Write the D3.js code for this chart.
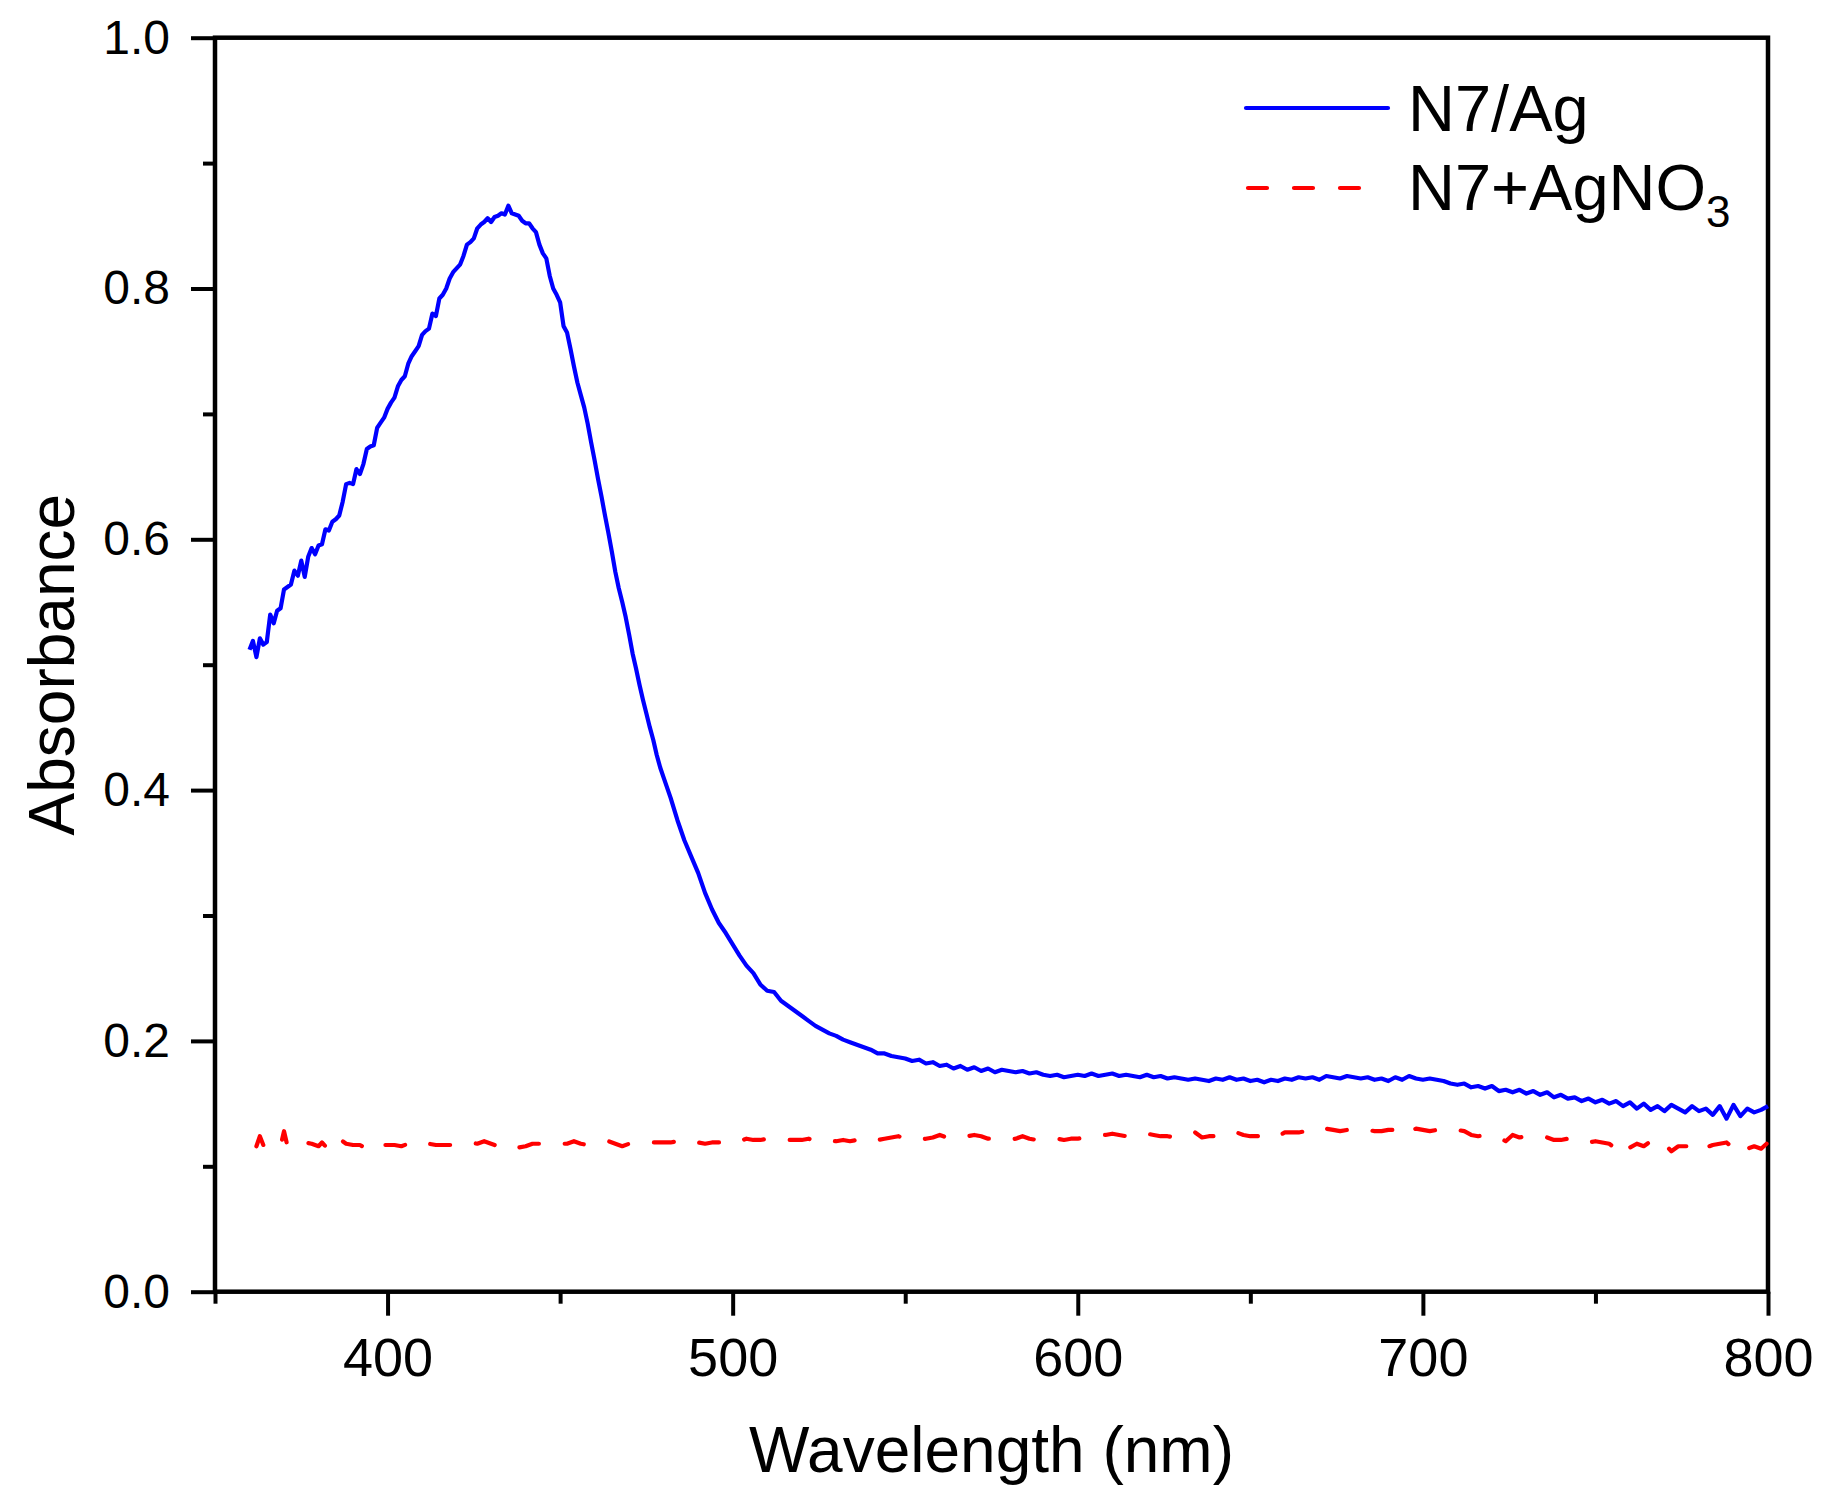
<!DOCTYPE html>
<html lang="en">
<head>
    <meta charset="UTF-8">
    <title>UV-Vis absorbance</title>
    <style>
        body { margin: 0; background: #fff; }
        text { font-family: Arial, "Liberation Sans", sans-serif; fill: #000; }
    </style>
</head>
<body>
    <svg id="container" width="1828" height="1509"></svg>

<script src="https://cdn.jsdelivr.net/npm/d3@7"></script>
<script>
    // series: [wavelength (nm), absorbance]
    let n7Ag = [
        [360,0.512],[361,0.519],[362,0.506],[363,0.521],[364,0.516],[365,0.518],[366,0.540],[367,0.533],
        [368,0.543],[369,0.545],[370,0.560],[371,0.562],[372,0.564],[373,0.575],[374,0.571],[375,0.583],
        [376,0.570],[377,0.586],[378,0.593],[379,0.588],[380,0.595],[381,0.596],[382,0.608],[383,0.607],
        [384,0.614],[385,0.616],[386,0.619],[387,0.630],[388,0.644],[389,0.645],[390,0.644],[391,0.656],
        [392,0.652],[393,0.660],[394,0.672],[395,0.674],[396,0.675],[397,0.689],[398,0.693],[399,0.697],
        [400,0.704],[401,0.709],[402,0.713],[403,0.722],[404,0.727],[405,0.730],[406,0.740],[407,0.746],
        [408,0.750],[409,0.754],[410,0.763],[411,0.766],[412,0.768],[413,0.780],[414,0.778],[415,0.792],
        [416,0.795],[417,0.800],[418,0.808],[419,0.813],[420,0.816],[421,0.819],[422,0.826],[423,0.835],
        [424,0.837],[425,0.840],[426,0.848],[427,0.851],[428,0.853],[429,0.856],[430,0.853],[431,0.857],
        [432,0.858],[433,0.860],[434,0.859],[435,0.866],[436,0.860],[437,0.859],[438,0.858],[439,0.854],
        [440,0.852],[441,0.852],[442,0.848],[443,0.845],[444,0.835],[445,0.828],[446,0.824],[447,0.810],
        [448,0.800],[449,0.795],[450,0.789],[451,0.770],[452,0.765],[453,0.752],[454,0.738],[455,0.725],
        [456,0.715],[457,0.705],[458,0.692],[459,0.677],[460,0.663],[461,0.648],[462,0.634],[463,0.619],
        [464,0.605],[465,0.590],[466,0.574],[467,0.561],[468,0.550],[469,0.538],[470,0.524],[471,0.509],
        [472,0.497],[473,0.484],[474,0.472],[475,0.461],[476,0.450],[477,0.440],[478,0.428],[479,0.418],
        [480,0.410],[482,0.394],[484,0.376],[486,0.360],[488,0.347],[490,0.334],[492,0.318],[494,0.305],
        [496,0.294],[498,0.286],[500,0.277],[502,0.268],[504,0.260],[506,0.254],[508,0.245],[510,0.240],
        [512,0.239],[514,0.232],[516,0.228],[518,0.224],[520,0.220],[522,0.216],[524,0.212],[526,0.209],
        [528,0.206],[530,0.204],[532,0.201],[534,0.199],[536,0.197],[538,0.195],[540,0.193],[542,0.190],
        [544,0.190],[546,0.188],[548,0.187],[550,0.186],[552,0.184],[554,0.185],[556,0.182],[558,0.183],
        [560,0.180],[562,0.181],[564,0.178],[566,0.180],[568,0.177],[570,0.179],[572,0.176],[574,0.178],
        [576,0.175],[578,0.177],[580,0.176],[582,0.175],[584,0.176],[586,0.174],[588,0.175],[590,0.173],
        [592,0.172],[594,0.173],[596,0.171],[598,0.172],[600,0.173],[602,0.172],[604,0.174],[606,0.172],
        [608,0.173],[610,0.174],[612,0.172],[614,0.173],[616,0.172],[618,0.171],[620,0.173],[622,0.171],
        [624,0.172],[626,0.170],[628,0.171],[630,0.170],[632,0.169],[634,0.170],[636,0.169],[638,0.168],
        [640,0.170],[642,0.169],[644,0.171],[646,0.169],[648,0.170],[650,0.168],[652,0.169],[654,0.167],
        [656,0.169],[658,0.168],[660,0.170],[662,0.169],[664,0.171],[666,0.170],[668,0.171],[670,0.169],
        [672,0.172],[674,0.171],[676,0.170],[678,0.172],[680,0.171],[682,0.170],[684,0.171],[686,0.169],
        [688,0.170],[690,0.168],[692,0.171],[694,0.169],[696,0.172],[698,0.170],[700,0.169],[702,0.170],
        [704,0.169],[706,0.168],[708,0.166],[710,0.165],[712,0.166],[714,0.163],[716,0.164],[718,0.162],
        [720,0.164],[722,0.160],[724,0.161],[726,0.159],[728,0.161],[730,0.158],[732,0.160],[734,0.157],
        [736,0.159],[738,0.155],[740,0.157],[742,0.154],[744,0.155],[746,0.152],[748,0.154],[750,0.151],
        [752,0.153],[754,0.150],[756,0.152],[758,0.148],[760,0.151],[762,0.146],[764,0.150],[766,0.145],
        [768,0.148],[770,0.144],[772,0.149],[774,0.146],[776,0.143],[778,0.148],[780,0.144],[782,0.146],
        [784,0.141],[786,0.148],[788,0.138],[790,0.149],[792,0.140],[794,0.146],[796,0.143],[798,0.145],
        [800,0.148]
    ]

    let n7AgNO3 = [
        [362,0.116],[363,0.124],[364,0.117],[366,0.118],[368,0.119],[369,0.116],[370,0.128],[371,0.116],
        [372,0.118],[374,0.119],[376,0.119],[378,0.118],[380,0.116],[381,0.119],[383,0.113],[385,0.120],
        [386,0.122],[388,0.118],[390,0.117],[392,0.117],[394,0.114],[396,0.118],[398,0.117],[400,0.117],
        [402,0.117],[404,0.116],[406,0.118],[408,0.119],[410,0.120],[412,0.118],[414,0.117],[416,0.117],
        [418,0.117],[420,0.117],[422,0.118],[424,0.119],[426,0.118],[428,0.120],[430,0.118],[432,0.116],
        [434,0.118],[436,0.117],[438,0.115],[440,0.116],[442,0.118],[444,0.118],[446,0.117],[448,0.118],
        [450,0.118],[452,0.118],[454,0.120],[456,0.118],[458,0.117],[460,0.118],[462,0.119],[464,0.120],
        [466,0.118],[468,0.116],[470,0.118],[472,0.118],[474,0.118],[476,0.119],[478,0.119],[480,0.119],
        [482,0.119],[484,0.120],[486,0.120],[488,0.121],[490,0.119],[492,0.118],[494,0.119],[496,0.119],
        [498,0.119],[500,0.118],[502,0.120],[504,0.122],[506,0.121],[508,0.121],[510,0.122],[512,0.122],
        [514,0.122],[516,0.121],[518,0.121],[520,0.121],[522,0.122],[524,0.120],[526,0.121],[528,0.120],
        [530,0.120],[532,0.121],[534,0.120],[536,0.121],[538,0.119],[540,0.120],[542,0.121],[544,0.122],
        [546,0.123],[548,0.124],[550,0.122],[552,0.122],[554,0.121],[556,0.122],[558,0.123],[560,0.125],
        [562,0.123],[564,0.122],[566,0.123],[568,0.124],[570,0.125],[572,0.124],[574,0.122],[576,0.122],
        [578,0.121],[580,0.121],[582,0.122],[584,0.124],[586,0.122],[588,0.121],[590,0.121],[592,0.122],
        [594,0.122],[596,0.121],[598,0.122],[600,0.122],[602,0.123],[604,0.124],[606,0.125],[608,0.125],
        [610,0.126],[612,0.125],[614,0.124],[616,0.124],[618,0.124],[620,0.126],[622,0.125],[624,0.124],
        [626,0.124],[628,0.123],[630,0.124],[632,0.125],[634,0.127],[636,0.123],[638,0.124],[640,0.124],
        [642,0.124],[644,0.124],[646,0.127],[648,0.125],[650,0.124],[652,0.124],[654,0.125],[656,0.123],
        [658,0.124],[660,0.127],[662,0.127],[664,0.127],[666,0.128],[668,0.128],[670,0.127],[672,0.130],
        [674,0.129],[676,0.128],[678,0.129],[680,0.130],[682,0.130],[684,0.129],[686,0.128],[688,0.128],
        [690,0.129],[692,0.129],[694,0.132],[696,0.128],[698,0.130],[700,0.129],[702,0.128],[704,0.129],
        [706,0.130],[708,0.130],[710,0.129],[712,0.128],[714,0.125],[716,0.124],[718,0.125],[720,0.124],
        [722,0.123],[724,0.120],[726,0.125],[728,0.123],[730,0.124],[732,0.124],[734,0.124],[736,0.123],
        [738,0.121],[740,0.121],[742,0.122],[744,0.121],[746,0.121],[748,0.119],[750,0.120],[752,0.119],
        [754,0.118],[756,0.114],[758,0.120],[760,0.115],[762,0.118],[764,0.116],[766,0.120],[768,0.116],
        [770,0.118],[772,0.112],[774,0.116],[776,0.116],[778,0.116],[780,0.119],[782,0.115],[784,0.117],
        [786,0.118],[788,0.119],[790,0.114],[792,0.110],[794,0.114],[796,0.116],[798,0.114],[800,0.119]
    ]

    let xMajorTicks = [400, 500, 600, 700, 800]
    let xMinorTicks = [350, 450, 550, 650, 750]
    let yMajorTicks = [0, 0.2, 0.4, 0.6, 0.8, 1.0]
    let yMinorTicks = [0.1, 0.3, 0.5, 0.7, 0.9]

    let seriesNames = ["N7/Ag", "N7+AgNO"]
    let seriesColors = ["#0000ff", "#ff0000"]

    let svg = d3.select("#container")
    let plotLeft = 215, plotRight = 1768, plotTop = 37.7, plotBottom = 1291.7

    let x = d3.scaleLinear().domain([350, 800]).range([plotLeft, plotRight])
    let y = d3.scaleLinear().domain([0, 1]).range([plotBottom, plotTop])

    // axes (ticks only, frame drawn separately)
    let xAxis = svg.append("g").attr("transform", `translate(0,${plotBottom})`)
        .call(d3.axisBottom(x).tickValues(xMajorTicks).tickSize(24).tickPadding(22)
            .tickFormat(d3.format("d")))
    xAxis.selectAll("text").attr("font-size", 54).style("font-family", "Arial, 'Liberation Sans'")

    svg.append("g").attr("transform", `translate(0,${plotBottom})`)
        .call(d3.axisBottom(x).tickValues(xMinorTicks).tickSize(12).tickFormat(""))

    let yAxis = svg.append("g").attr("transform", `translate(${plotLeft},0)`)
        .call(d3.axisLeft(y).tickValues(yMajorTicks).tickSize(24).tickPadding(21)
            .tickFormat(d3.format(".1f")))
    yAxis.selectAll("text").attr("font-size", 48).style("font-family", "Arial, 'Liberation Sans'")

    svg.append("g").attr("transform", `translate(${plotLeft},0)`)
        .call(d3.axisLeft(y).tickValues(yMinorTicks).tickSize(12).tickFormat(""))

    svg.selectAll(".domain").remove()
    svg.selectAll(".tick line").attr("stroke", "#000").attr("stroke-width", 4)

    // frame
    svg.append("rect")
        .attr("x", plotLeft).attr("y", plotTop)
        .attr("width", plotRight - plotLeft).attr("height", plotBottom - plotTop)
        .attr("fill", "none").attr("stroke", "#000").attr("stroke-width", 4.5)

    let line = d3.line().x(d => x(d[0])).y(d => y(d[1]))

    svg.append("path").datum(n7Ag)
        .attr("d", line)
        .attr("fill", "none")
        .attr("stroke", seriesColors[0])
        .attr("stroke-width", 4.2)
        .attr("stroke-linejoin", "round")

    svg.append("path").datum(n7AgNO3)
        .attr("d", line)
        .attr("fill", "none")
        .attr("stroke", seriesColors[1])
        .attr("stroke-width", 4.2)
        .attr("stroke-linejoin", "round")
        .attr("stroke-linecap", "round")
        .attr("stroke-dasharray", "20,26")

    // axis titles
    svg.append("text")
        .attr("x", (plotLeft + plotRight) / 2).attr("y", 1472)
        .attr("text-anchor", "middle").attr("font-size", 64)
        .text("Wavelength (nm)")

    svg.append("text")
        .attr("transform", `translate(74,${(plotTop + plotBottom) / 2}) rotate(-90)`)
        .attr("text-anchor", "middle").attr("font-size", 64)
        .text("Absorbance")

    // legend
    let legend = svg.append("g")
    legend.append("line")
        .attr("x1", 1246).attr("x2", 1388).attr("y1", 108).attr("y2", 108)
        .attr("stroke", seriesColors[0]).attr("stroke-width", 4.2).attr("stroke-linecap", "round")
    legend.append("line")
        .attr("x1", 1248).attr("x2", 1362).attr("y1", 188).attr("y2", 188)
        .attr("stroke", seriesColors[1]).attr("stroke-width", 4.2).attr("stroke-linecap", "round")
        .attr("stroke-dasharray", "19,27")

    legend.append("text").attr("x", 1408).attr("y", 131).attr("font-size", 65)
        .text(seriesNames[0])
    let t2 = legend.append("text").attr("x", 1408).attr("y", 210).attr("font-size", 65)
    t2.append("tspan").text(seriesNames[1])
    t2.append("tspan").attr("font-size", 44).attr("dy", 17).text("3")
</script>
</body>
</html>
